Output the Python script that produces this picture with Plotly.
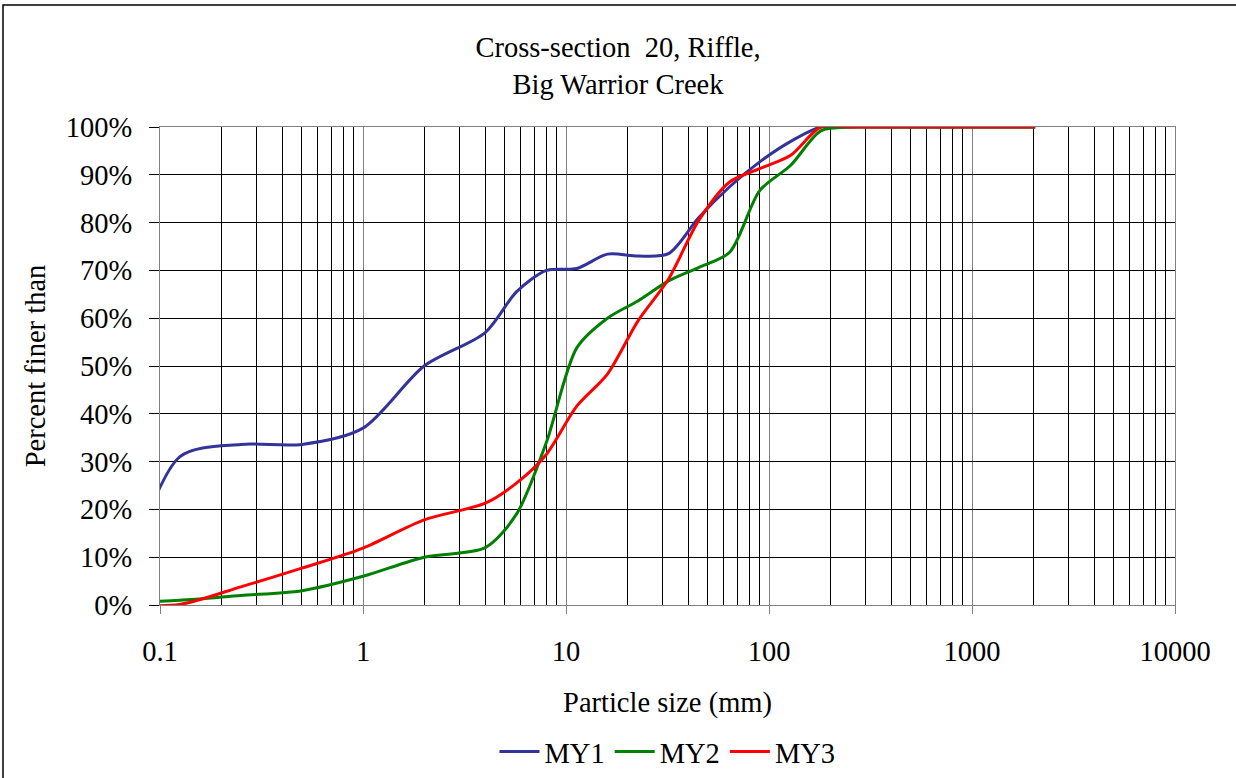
import plotly.graph_objects as go

# Sieve sizes (mm) and percent finer for each monitoring year
sizes = [0.062, 0.125, 0.25, 0.5, 1, 2, 4, 5.7, 8, 11.3, 16, 22.6, 32, 45,
         64, 90, 128, 180, 256, 362, 512, 1024, 2048]

my1 = [0, 31, 33.6, 33.6, 37, 50, 57, 65.5, 70, 70.4, 73.4, 73, 73.5, 81,
       87.5, 92.7, 97, 100, 100, 100, 100, 100, 100]
my2 = [0.5, 1, 2, 3, 6, 10, 12, 19, 34, 53.8, 60, 63.6, 67.8, 70.6,
       73.8, 86.7, 92, 99.2, 100, 100, 100, 100, 100]
my3 = [0, 0.1, 3.8, 7.7, 11.9, 17.8, 21.3, 25.5, 31.5, 41.6, 48.3, 59.4, 68.2, 80.4,
       88.5, 91.3, 94.1, 100, 100, 100, 100, 100, 100]

series = [("MY1", my1, "#333399"), ("MY2", my2, "#008000"), ("MY3", my3, "#FF0000")]

x_ticks = [0.1, 1, 10, 100, 1000, 10000]
x_labels = ["0.1", "1", "10", "100", "1000", "10000"]
y_ticks = list(range(0, 101, 10))
y_labels = [f"{v}%" for v in y_ticks]

FONT = "Liberation Serif"
FS = 28.5
txt = dict(family=FONT, size=FS, color="black")

fig = go.Figure()
for name, vals, col in series:
    fig.add_trace(go.Scatter(
        x=sizes, y=vals, mode="lines", name=name,
        line=dict(color=col, width=3, shape="spline", smoothing=0.8),
    ))

fig.update_layout(
    width=1236, height=778,
    margin=dict(l=160, r=61, t=127, b=173),
    paper_bgcolor="white", plot_bgcolor="white",
    font=txt,
    title=dict(text="Cross-section\u00a0 20, Riffle,<br>Big Warrior Creek",
               x=0.5, xanchor="center", y=0.927, yanchor="top", font=txt),
    showlegend=True,
    legend=dict(orientation="h", x=0.5, xanchor="center",
                yref="container", y=1 - 752 / 778, yanchor="middle",
                font=txt, itemwidth=40, tracegroupgap=0),
    xaxis=dict(
        type="log", range=[-1, 4],
        tickvals=x_ticks, ticktext=x_labels, tickfont=txt,
        ticks="outside", ticklen=8, tickcolor="#808080",
        ticklabelstandoff=13,
        showline=True, linecolor="#808080", linewidth=1, mirror=True,
        showgrid=True, gridcolor="#808080", gridwidth=1,
        minor=dict(dtick="D1", showgrid=True, gridcolor="#000000", gridwidth=1, ticks=""),
        title=dict(text="Particle size (mm)", standoff=25, font=txt),
        zeroline=False, automargin=False,
    ),
    yaxis=dict(
        range=[0, 100],
        tickvals=y_ticks, ticktext=y_labels, tickfont=txt,
        ticks="outside", ticklen=10, tickcolor="#000000",
        ticklabelstandoff=11,
        showline=True, linecolor="#808080", linewidth=1, mirror=True,
        showgrid=True, gridcolor="#000000", gridwidth=1,
        title=dict(text="Percent finer than", standoff=11, font=txt),
        zeroline=False, automargin=False,
    ),
    shapes=[dict(type="rect", xref="paper", yref="paper",
                 x0=(3 - 160) / 1015, x1=(1250 - 160) / 1015,
                 y0=-0.5, y1=(605 - 5) / 478,
                 line=dict(color="black", width=1.5), fillcolor="rgba(0,0,0,0)",
                 layer="below")],
)

fig.write_html("out.html", config={"displayModeBar": False},
               post_script="document.body.style.margin = '0';")
